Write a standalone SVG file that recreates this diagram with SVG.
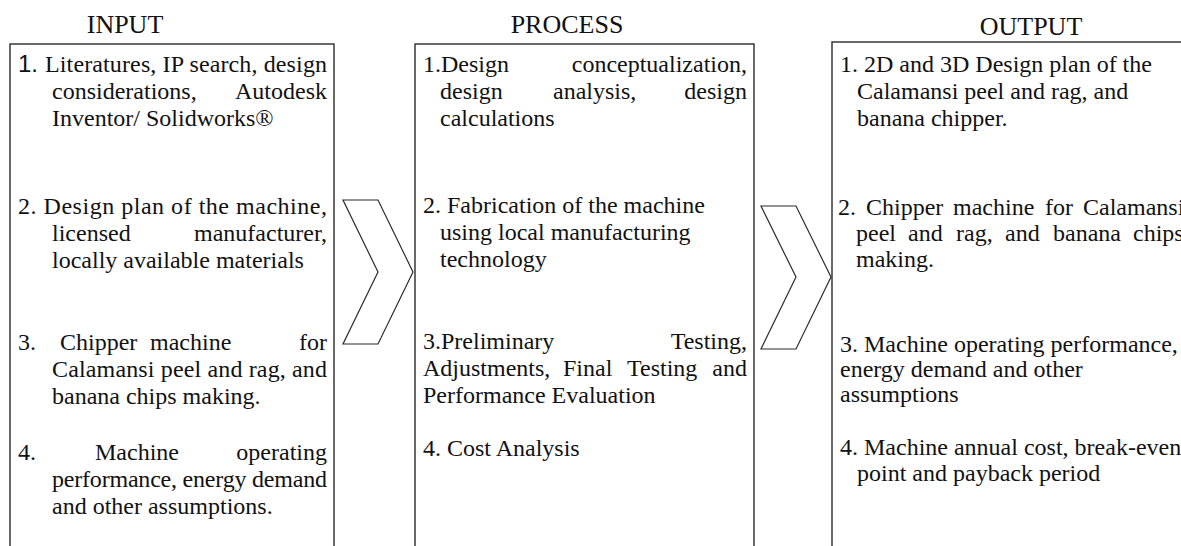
<svg xmlns="http://www.w3.org/2000/svg" width="1181" height="546" viewBox="0 0 1181 546">
  <style>
    .box { fill: #ffffff; stroke: #2b2b2b; stroke-width: 1.4; }
    .chev { fill: #ffffff; stroke: #2b2b2b; stroke-width: 1.2; stroke-linejoin: miter; }
    .title { font-family: "Liberation Serif", "Times New Roman", serif; font-size: 26px; fill: #111; text-anchor: middle; }
    .t { font-family: "Liberation Serif", "Times New Roman", serif; font-size: 24px; fill: #111; }
    .e { text-anchor: end; }
    .sans { font-family: "Liberation Sans", Arial, sans-serif; }
  </style>
  <rect width="1181" height="546" fill="#ffffff"/>

  <!-- INPUT column -->
  <g id="input">
    <text class="title" x="125" y="33">INPUT</text>
    <rect class="box" x="10" y="44" width="324" height="520"/>
    <!-- item 1 -->
    <text class="t" x="18" y="72"><tspan class="sans">1.</tspan></text>
    <text class="t" x="45" y="72" textLength="282" lengthAdjust="spacing">Literatures, IP search, design</text>
    <text class="t" x="52" y="99">considerations,</text>
    <text class="t e" x="327" y="99">Autodesk</text>
    <text class="t" x="52" y="126">Inventor/ Solidworks®</text>
    <!-- item 2 -->
    <text class="t" x="18" y="214" textLength="309" lengthAdjust="spacing">2. Design plan of the machine,</text>
    <text class="t" x="52" y="241">licensed</text>
    <text class="t e" x="327" y="241">manufacturer,</text>
    <text class="t" x="52" y="268">locally available materials</text>
    <!-- item 3 -->
    <text class="t" x="18" y="350">3.</text>
    <text class="t" x="60" y="350">Chipper</text>
    <text class="t" x="150" y="350">machine</text>
    <text class="t e" x="327" y="350">for</text>
    <text class="t" x="52" y="377" textLength="275" lengthAdjust="spacing">Calamansi peel and rag, and</text>
    <text class="t" x="52" y="404">banana chips making.</text>
    <!-- item 4 -->
    <text class="t" x="18" y="460">4.</text>
    <text class="t" x="95" y="460">Machine</text>
    <text class="t e" x="327" y="460">operating</text>
    <text class="t" x="52" y="487" textLength="275" lengthAdjust="spacing">performance, energy demand</text>
    <text class="t" x="52" y="514">and other assumptions.</text>
  </g>

  <!-- PROCESS column -->
  <g id="process">
    <text class="title" x="567" y="33">PROCESS</text>
    <rect class="box" x="415" y="44" width="339" height="520"/>
    <!-- item 1 -->
    <text class="t" x="423" y="72">1.Design</text>
    <text class="t e" x="747" y="72">conceptualization,</text>
    <text class="t" x="440" y="99">design</text>
    <text class="t" x="553" y="99">analysis,</text>
    <text class="t e" x="747" y="99">design</text>
    <text class="t" x="440" y="126">calculations</text>
    <!-- item 2 -->
    <text class="t" x="423" y="213">2. Fabrication of the machine</text>
    <text class="t" x="440" y="240">using local manufacturing</text>
    <text class="t" x="440" y="267">technology</text>
    <!-- item 3 -->
    <text class="t" x="423" y="349">3.Preliminary</text>
    <text class="t e" x="747" y="349">Testing,</text>
    <text class="t" x="423" y="376">Adjustments,</text>
    <text class="t" x="563" y="376">Final</text>
    <text class="t" x="627" y="376">Testing</text>
    <text class="t e" x="747" y="376">and</text>
    <text class="t" x="423" y="403">Performance Evaluation</text>
    <!-- item 4 -->
    <text class="t" x="423" y="456">4. Cost Analysis</text>
  </g>

  <!-- OUTPUT column (runs past the right edge) -->
  <g id="output">
    <text class="title" x="1031" y="35">OUTPUT</text>
    <rect class="box" x="832" y="42" width="380" height="522"/>
    <!-- item 1 -->
    <text class="t" x="840" y="72">1. 2D and 3D Design plan of the</text>
    <text class="t" x="857" y="99">Calamansi peel and rag, and</text>
    <text class="t" x="857" y="126">banana chipper.</text>
    <!-- item 2 -->
    <text class="t" x="838" y="215">2.</text>
    <text class="t" x="866" y="215">Chipper</text>
    <text class="t" x="953" y="215">machine</text>
    <text class="t" x="1045" y="215">for</text>
    <text class="t" x="1083" y="215">Calamansi</text>
    <text class="t" x="856" y="241">peel</text>
    <text class="t" x="908" y="241">and</text>
    <text class="t" x="956" y="241">rag,</text>
    <text class="t" x="1005" y="241">and</text>
    <text class="t" x="1053" y="241">banana</text>
    <text class="t" x="1133" y="241">chips</text>
    <text class="t" x="856" y="267">making.</text>
    <!-- item 3 -->
    <text class="t" x="840" y="352">3. Machine operating performance,</text>
    <text class="t" x="840" y="377">energy demand and other</text>
    <text class="t" x="840" y="402">assumptions</text>
    <!-- item 4 -->
    <text class="t" x="840" y="455">4. Machine annual cost, break-even</text>
    <text class="t" x="857" y="481">point and payback period</text>
  </g>

  <!-- chevron arrows between the columns -->
  <g id="connectors">
    <polygon class="chev" points="343,200 378,200 413,272 378,344 343,344 378,272"/>
    <polygon class="chev" points="761,206 796,206 831,277 796,349 761,349 796,277"/>
  </g>
</svg>
